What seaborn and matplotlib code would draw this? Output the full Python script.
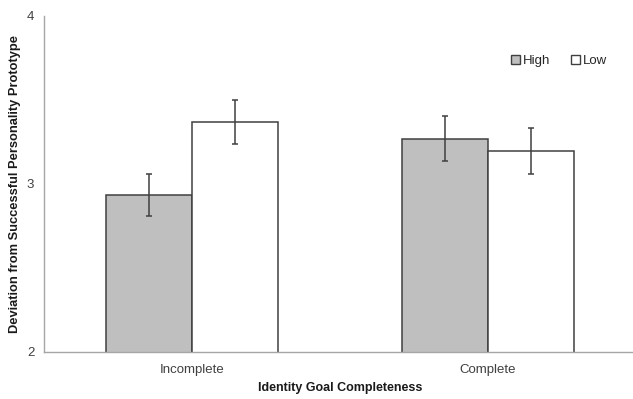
import pandas as pd
import matplotlib
matplotlib.use("Agg")
import matplotlib.pyplot as plt
import matplotlib.patches as mpatches
import seaborn as sns

# values
groups = ["Incomplete", "Complete"]
levels = ["High", "Low"]
high_means = [2.935, 3.268]
low_means = [3.369, 3.198]
high_se = [0.125, 0.134]
low_se = [0.131, 0.138]

df = pd.DataFrame({
    "group": groups * 2,
    "level": ["High"] * 2 + ["Low"] * 2,
    "mean": high_means + low_means,
    "se": high_se + low_se,
})

sns.set_style("white")
plt.rcParams["font.family"] = ["Liberation Sans", "DejaVu Sans"]

fig = plt.figure(figsize=(6.33, 3.99), dpi=100)
ax = fig.add_axes([44 / 633, 1 - 352 / 399, 592 / 633, 336 / 399])

palette = {"High": "#bfbfbf", "Low": "#ffffff"}
sns.barplot(data=df, x="group", y="mean", hue="level", order=groups,
            hue_order=levels, palette=palette, width=0.58, errorbar=None,
            edgecolor="#404040", linewidth=1.1, legend=False, ax=ax)

# error bars placed on the bars seaborn drew (hue order, then group order)
bars = [p for p in ax.patches if isinstance(p, mpatches.Rectangle)]
for i, bar in enumerate(bars[:4]):
    lvl = levels[i // 2]
    grp = groups[i % 2]
    row = df[(df.level == lvl) & (df.group == grp)].iloc[0]
    cx = bar.get_x() + bar.get_width() / 2
    ax.errorbar(cx, row["mean"], yerr=row["se"], fmt="none", ecolor="#404040",
                elinewidth=1.1, capsize=2.5, capthick=1.1)

ax.set_ylim(2, 4)
ax.set_xlim(-0.5, 1.5)
ax.set_yticks([2, 3, 4])
ax.tick_params(axis="both", length=0, labelsize=9.5, colors="#404040")
ax.tick_params(axis="y", pad=7)
ax.tick_params(axis="x", pad=9)
for side in ["top", "right"]:
    ax.spines[side].set_visible(False)
for side in ["left", "bottom"]:
    ax.spines[side].set_color("#a6a6a6")
    ax.spines[side].set_linewidth(1.0)

ax.set_xlabel("Identity Goal Completeness", fontsize=9, fontweight="bold",
              color="#1a1a1a", labelpad=4)
ax.set_ylabel("Deviation from Successful Personality Prototype", fontsize=9.3,
              fontweight="bold", color="#1a1a1a")
ax.yaxis.set_label_coords(-23 / 592, 0.5)

handles = [mpatches.Patch(facecolor=palette[l], edgecolor="#404040", linewidth=1.0, label=l)
           for l in levels]
ax.legend(handles=handles, ncol=2, frameon=False, fontsize=9.5,
          loc="center", bbox_to_anchor=(0.87, 0.865),
          handlelength=0.7, handleheight=0.7, handletextpad=0.2, columnspacing=1.6)

fig.savefig("out.png", dpi=100)
